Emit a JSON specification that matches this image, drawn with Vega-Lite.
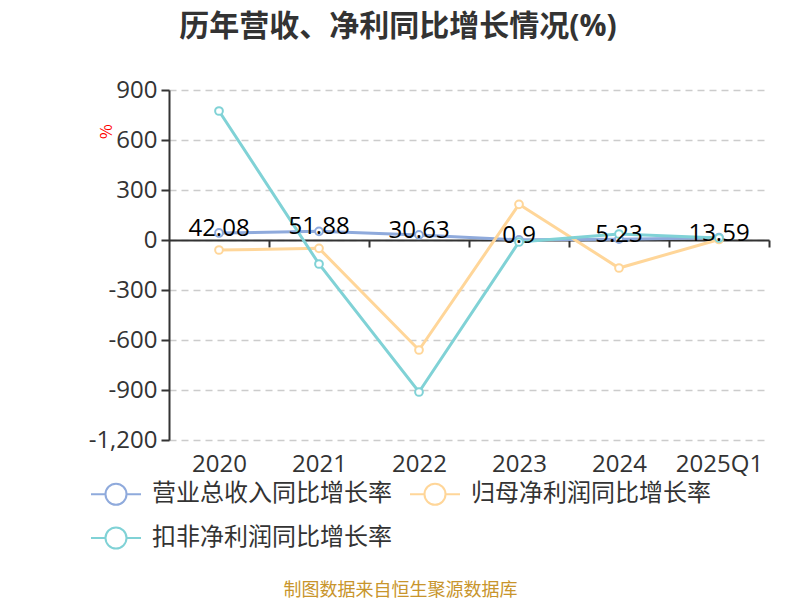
{
  "$schema": "https://vega.github.io/schema/vega-lite/v6.json",
  "width": 600,
  "height": 350,
  "autosize": {"type": "none"},
  "padding": {"left": 169, "top": 90, "right": 31, "bottom": 160},
  "background": "white",
  "config": {
    "font": "Open Sans, Noto Sans CJK SC",
    "view": {"stroke": null},
    "axis": {"labelFont": "Open Sans, Noto Sans CJK SC", "titleFont": "Noto Sans CJK SC"}
  },
  "title": {
    "text": "历年营收、净利同比增长情况(%)",
    "font": "Open Sans, Noto Sans CJK SC",
    "fontSize": 30,
    "fontWeight": "bold",
    "color": "#333333",
    "anchor": "middle",
    "frame": "group",
    "dx": -71,
    "offset": 36
  },
  "data": {
    "values": [
      {"year": "2020", "series": "营业总收入同比增长率", "value": 42.08},
      {"year": "2021", "series": "营业总收入同比增长率", "value": 51.88},
      {"year": "2022", "series": "营业总收入同比增长率", "value": 30.63},
      {"year": "2023", "series": "营业总收入同比增长率", "value": 0.9},
      {"year": "2024", "series": "营业总收入同比增长率", "value": 5.23},
      {"year": "2025Q1", "series": "营业总收入同比增长率", "value": 13.59},
      {"year": "2020", "series": "归母净利润同比增长率", "value": -60},
      {"year": "2021", "series": "归母净利润同比增长率", "value": -50},
      {"year": "2022", "series": "归母净利润同比增长率", "value": -660},
      {"year": "2023", "series": "归母净利润同比增长率", "value": 214},
      {"year": "2024", "series": "归母净利润同比增长率", "value": -168},
      {"year": "2025Q1", "series": "归母净利润同比增长率", "value": 3},
      {"year": "2020", "series": "扣非净利润同比增长率", "value": 774},
      {"year": "2021", "series": "扣非净利润同比增长率", "value": -144},
      {"year": "2022", "series": "扣非净利润同比增长率", "value": -912},
      {"year": "2023", "series": "扣非净利润同比增长率", "value": -12},
      {"year": "2024", "series": "扣非净利润同比增长率", "value": 36},
      {"year": "2025Q1", "series": "扣非净利润同比增长率", "value": 12}
    ]
  },
  "layer": [
    {
      "mark": {
        "type": "line",
        "strokeWidth": 3,
        "point": {"filled": false, "fill": "white", "size": 60, "strokeWidth": 2}
      },
      "encoding": {
        "x": {
          "field": "year",
          "type": "ordinal",
          "sort": null,
          "axis": {
            "orient": "bottom",
            "offset": -200,
            "labels": false,
            "title": null,
            "grid": false,
            "domainColor": "#333333",
            "domainWidth": 2,
            "tickColor": "#333333",
            "tickWidth": 2,
            "tickSize": 7,
            "tickOffset": 50
          }
        },
        "y": {
          "field": "value",
          "type": "quantitative",
          "scale": {"domain": [-1200, 900], "nice": false, "zero": false},
          "axis": {
            "values": [-1200, -900, -600, -300, 0, 300, 600, 900],
            "labelExpr": "replace(format(datum.value, ',d'), '\u2212', '-')",
            "labelFontSize": 24,
            "labelColor": "#333333",
            "labelPadding": 4,
            "domainColor": "#333333",
            "domainWidth": 2,
            "tickColor": "#333333",
            "tickWidth": 2,
            "tickSize": 8,
            "grid": true,
            "gridColor": "#cccccc",
            "gridDash": [7, 5],
            "gridWidth": 1.5,
            "title": "%",
            "titleColor": "#ff0000",
            "titleFontSize": 16,
            "titleFontWeight": "normal",
            "titleX": -63,
            "titleY": 41,
            "titleAngle": 270,
            "titleAlign": "center",
            "titleBaseline": "middle"
          }
        },
        "color": {
          "field": "series",
          "type": "nominal",
          "sort": ["营业总收入同比增长率", "归母净利润同比增长率", "扣非净利润同比增长率"],
          "scale": {
            "domain": ["营业总收入同比增长率", "归母净利润同比增长率", "扣非净利润同比增长率"],
            "range": ["#8faadc", "#ffd699", "#80d2d6"]
          },
          "legend": {
            "orient": "none",
            "legendX": -79,
            "legendY": 378,
            "direction": "horizontal",
            "columns": 2,
            "title": null,
            "symbolType": "M-1,0L-0.42,0M0.42,0L1,0M0.42,0A0.42,0.42,0,1,1,-0.42,0A0.42,0.42,0,1,1,0.42,0Z",
            "symbolSize": 2500,
            "symbolStrokeWidth": 2,
            "symbolFillColor": "white",
            "labelFontSize": 24,
            "labelFont": "Open Sans, Noto Sans CJK SC",
            "labelColor": "#333333",
            "labelLimit": 400,
            "labelOffset": 10,
            "columnPadding": 14,
            "rowPadding": 3
          }
        }
      }
    },
    {
      "transform": [{"filter": "datum.series === '营业总收入同比增长率'"}],
      "mark": {
        "type": "text",
        "fontSize": 24,
        "font": "Open Sans, Noto Sans CJK SC",
        "color": "#000000",
        "baseline": "middle",
        "align": "center",
        "dy": -4
      },
      "encoding": {
        "x": {
          "field": "year",
          "type": "ordinal",
          "sort": null,
          "axis": {
            "orient": "bottom",
            "domain": false,
            "ticks": false,
            "grid": false,
            "labelAngle": 0,
            "labelFontSize": 24,
            "labelColor": "#333333",
            "labelPadding": 12,
            "title": "制图数据来自恒生聚源数据库",
            "titleFont": "Noto Sans CJK SC",
            "titleFontSize": 18,
            "titleFontWeight": "normal",
            "titleColor": "#c8952c",
            "titleX": 231,
            "titleY": 150,
            "titleAlign": "center",
            "titleBaseline": "middle"
          }
        },
        "y": {"field": "value", "type": "quantitative"},
        "text": {"field": "value", "type": "quantitative"}
      }
    }
  ],
  "resolve": {"axis": {"x": "independent"}}
}
